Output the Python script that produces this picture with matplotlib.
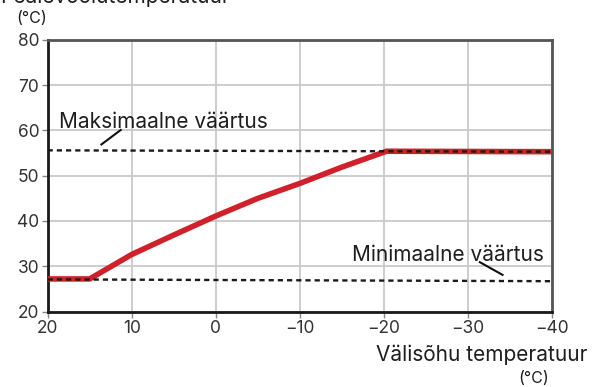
import matplotlib
matplotlib.use("Agg")
import matplotlib.pyplot as plt

plt.rcParams['font.family'] = ['Inter', 'DejaVu Sans']

# Outdoor temperature (°C) and supply temperature (°C) of the heating curve
outdoor = [20, 15, 10, 5, 0, -5, -10, -15, -20.3, -40]
supply = [27.2, 27.2, 32.6, 36.9, 41.1, 45.0, 48.3, 51.9, 55.4, 55.3]

# Maximum / minimum limit lines (start and end values)
limit_x = [20, -40]
max_limit = [55.6, 55.3]
min_limit = [27.1, 26.7]

x_ticks = [20, 10, 0, -10, -20, -30, -40]
x_tick_labels = ["20", "10", "0", "\u221210", "\u221220", "\u221230", "\u221240"]
y_ticks = [20, 30, 40, 50, 60, 70, 80]

text_color = "#1e1e1e"

fig = plt.figure(figsize=(5.95, 3.87), dpi=100)
ax = fig.add_axes([0.080, 0.195, 0.848, 0.702])

ax.set_xlim(20, -40)
ax.set_ylim(20, 80)
ax.set_xticks(x_ticks)
ax.set_xticklabels(x_tick_labels)
ax.set_yticks(y_ticks)
ax.grid(True, color="#c9c9c9", linewidth=1.3)
ax.set_axisbelow(True)

ax.tick_params(axis="both", colors="#888888", labelcolor="#333333",
               labelsize=12.5, length=4, width=1, pad=2)

for side in ("left", "bottom"):
    ax.spines[side].set_color("#1a1a1a")
    ax.spines[side].set_linewidth(2.0)
for side in ("top", "right"):
    ax.spines[side].set_color("#555555")
    ax.spines[side].set_linewidth(2.0)

# Heating curve
ax.plot(outdoor, supply, color="#d0202a", linewidth=4.0,
        solid_capstyle="butt", solid_joinstyle="round", zorder=3)

# Limit lines
ax.plot(limit_x, max_limit, color="#1a1a1a", linewidth=1.7,
        linestyle=(0, (2.2, 1.7)), zorder=4)
ax.plot(limit_x, min_limit, color="#1a1a1a", linewidth=1.7,
        linestyle=(0, (2.2, 1.7)), zorder=4)

# Labels for limit lines with leader strokes
ax.text(18.6, 60.6, "Maksimaalne väärtus", fontsize=15, color=text_color,
        ha="left", va="baseline")
ax.plot([13.6, 11.3], [56.9, 60.1], color="#111111", linewidth=1.5)

ax.text(-39.0, 31.2, "Minimaalne väärtus", fontsize=15, color=text_color,
        ha="right", va="baseline")
ax.plot([-31.4, -34.1], [30.9, 28.1], color="#111111", linewidth=1.5)

# Axis titles
fig.text(0.0, 1.008, "Pealevoolutemperatuur", fontsize=15, color=text_color,
         ha="left", va="center")
fig.text(0.028, 0.952, "(°C)", fontsize=11.5, color=text_color,
         ha="left", va="center")
fig.text(0.987, 0.083, "Välisõhu temperatuur", fontsize=15, color=text_color,
         ha="right", va="center")
fig.text(0.922, 0.022, "(°C)", fontsize=11.5, color=text_color,
         ha="right", va="center")

fig.savefig("out.png", dpi=100)
